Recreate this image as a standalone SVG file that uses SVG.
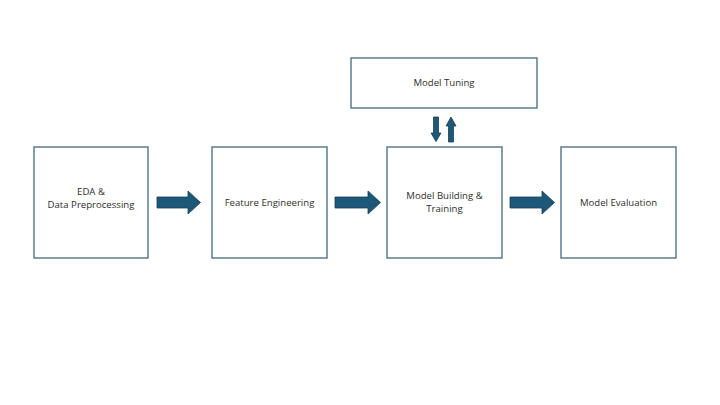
<svg xmlns="http://www.w3.org/2000/svg" width="720" height="405" viewBox="0 0 720 405">
  <defs>
    <style>
      .box { fill: #ffffff; stroke: #44697f; stroke-width: 1.3; }
      .lbl { font-family: "Open Sans", "Liberation Sans", sans-serif; font-size: 9.6px; fill: #2e2e2e; text-anchor: middle; }
      .arr { fill: #1d5878; stroke: #163f57; stroke-width: 0.8; }
    </style>
  </defs>
  <rect width="720" height="405" fill="#ffffff"/>

  <g id="node-eda">
    <rect class="box" x="34" y="147" width="114" height="111"/>
    <text class="lbl" x="91" y="195">EDA &amp;</text>
    <text class="lbl" x="91" y="208">Data Preprocessing</text>
  </g>

  <g id="node-feature">
    <rect class="box" x="212" y="147" width="115" height="111"/>
    <text class="lbl" x="269.5" y="206">Feature Engineering</text>
  </g>

  <g id="node-tuning">
    <rect class="box" x="351" y="58" width="186" height="50"/>
    <text class="lbl" x="444" y="86">Model Tuning</text>
  </g>

  <g id="node-building">
    <rect class="box" x="387" y="147" width="115" height="111"/>
    <text class="lbl" x="444.5" y="199">Model Building &amp;</text>
    <text class="lbl" x="444.5" y="212">Training</text>
  </g>

  <g id="node-evaluation">
    <rect class="box" x="561" y="147" width="115" height="111"/>
    <text class="lbl" x="618.5" y="206">Model Evaluation</text>
  </g>

  <g id="connectors">
    <polygon class="arr" points="157,197 188,197 188,191 200.5,202.5 188,214 188,208 157,208"/>
    <polygon class="arr" points="335,197 368,197 368,191 380.5,202.5 368,214 368,208 335,208"/>
    <polygon class="arr" points="510,197 542,197 542,191 554.5,202.5 542,214 542,208 510,208"/>
    <polygon class="arr" points="433.5,117 438.5,117 438.5,133 441,133 436,141.5 431,133 433.5,133"/>
    <polygon class="arr" points="448.5,142 453.5,142 453.5,126 456,126 451,117 446,126 448.5,126"/>
  </g>
</svg>
